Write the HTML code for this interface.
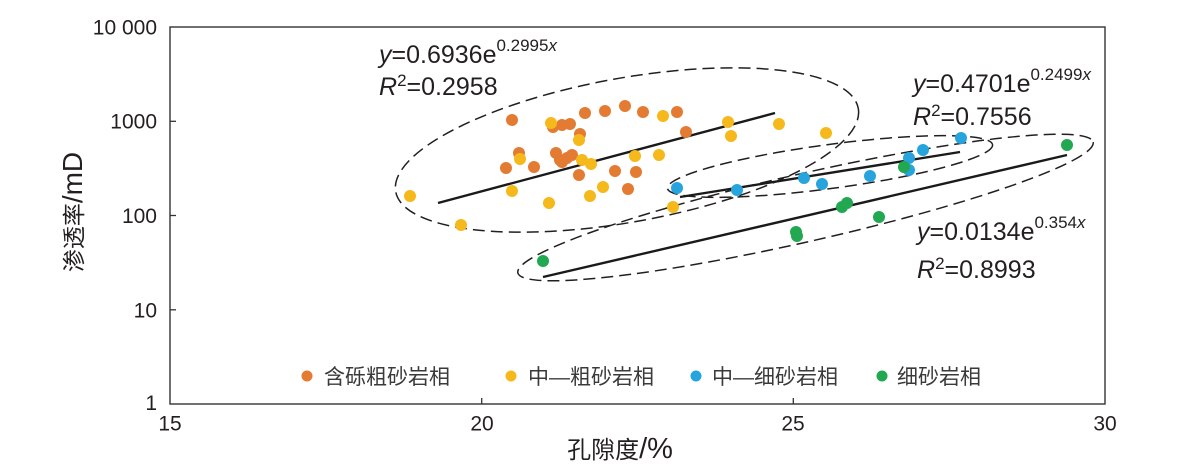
<!DOCTYPE html>
<html>
<head>
<meta charset="utf-8">
<style>
  html,body{margin:0;padding:0;background:#fff;}
  svg{display:block;}
  .t{font-family:"Liberation Sans","Noto Sans CJK SC",sans-serif;}
  .cjk{font-family:"Liberation Sans","Noto Sans CJK SC",sans-serif;}
</style>
</head>
<body>
<svg width="1179" height="476" viewBox="0 0 1179 476" xmlns="http://www.w3.org/2000/svg">
  <rect x="0" y="0" width="1179" height="476" fill="#fff"/>

  <!-- axes box -->
  <rect x="170" y="27" width="935" height="377" fill="none" stroke="#333" stroke-width="1.4"/>
  <g stroke="#333" stroke-width="1.3">
    <line x1="170" y1="121.3" x2="176" y2="121.3"/>
    <line x1="170" y1="215.5" x2="176" y2="215.5"/>
    <line x1="170" y1="309.8" x2="176" y2="309.8"/>
    <line x1="481.7" y1="404" x2="481.7" y2="398"/>
    <line x1="793.3" y1="404" x2="793.3" y2="398"/>
  </g>

  <!-- y tick labels -->
  <g class="t" font-size="21" fill="#231f20" text-anchor="end">
    <text x="157" y="34.5">10 000</text>
    <text x="157" y="128.5">1000</text>
    <text x="157" y="223">100</text>
    <text x="157" y="317.5">10</text>
    <text x="157" y="410">1</text>
  </g>
  <!-- x tick labels -->
  <g class="t" font-size="21" fill="#231f20" text-anchor="middle">
    <text x="170" y="430.5">15</text>
    <text x="482" y="430.5">20</text>
    <text x="793" y="430.5">25</text>
    <text x="1105" y="430.5">30</text>
  </g>

  <!-- axis titles -->
  <text class="cjk" x="0" y="0" font-size="23" fill="#231f20" text-anchor="middle" transform="translate(82,212) rotate(-90)">渗透率<tspan font-size="28">/mD</tspan></text>
  <text class="cjk" x="620" y="458" font-size="24" fill="#231f20" text-anchor="middle">孔隙度<tspan font-size="29">/%</tspan></text>

  <!-- ellipses -->
  <g fill="none" stroke="#231f20" stroke-width="1.5" stroke-dasharray="12 6">
    <ellipse cx="627" cy="150" rx="235" ry="72" transform="rotate(-10.2 627 150)"/>
    <ellipse cx="830" cy="166.5" rx="164" ry="22" transform="rotate(-7.65 830 166.5)"/>
    <ellipse cx="805.5" cy="207.5" rx="295" ry="34" transform="rotate(-12.8 805.5 207.5)"/>
  </g>

  <!-- trend lines -->
  <g stroke="#1a1a1a" stroke-width="2.4">
    <line x1="438" y1="203" x2="775" y2="113"/>
    <line x1="680" y1="197" x2="960" y2="152"/>
    <line x1="543" y1="277" x2="1067" y2="155"/>
  </g>

  <!-- orange points -->
  <g fill="#e37b33">
    <circle cx="512" cy="120" r="6"/>
    <circle cx="553" cy="127" r="6"/>
    <circle cx="562" cy="125" r="6"/>
    <circle cx="570" cy="124" r="6"/>
    <circle cx="585" cy="113" r="6"/>
    <circle cx="605" cy="111" r="6"/>
    <circle cx="625" cy="106" r="6"/>
    <circle cx="643" cy="112" r="6"/>
    <circle cx="677" cy="112" r="6"/>
    <circle cx="686" cy="132" r="6"/>
    <circle cx="580" cy="134" r="6"/>
    <circle cx="519" cy="153" r="6"/>
    <circle cx="506" cy="168" r="6"/>
    <circle cx="534" cy="167" r="6"/>
    <circle cx="556" cy="153" r="6"/>
    <circle cx="560" cy="160" r="6"/>
    <circle cx="567" cy="158" r="6"/>
    <circle cx="572" cy="155" r="6"/>
    <circle cx="562" cy="162" r="6"/>
    <circle cx="579" cy="175" r="6"/>
    <circle cx="615" cy="171" r="6"/>
    <circle cx="636" cy="172" r="6"/>
    <circle cx="628" cy="189" r="6"/>
  </g>
  <!-- yellow points -->
  <g fill="#f6b91c">
    <circle cx="551" cy="123" r="6"/>
    <circle cx="579" cy="140" r="6"/>
    <circle cx="520" cy="159" r="6"/>
    <circle cx="582" cy="160" r="6"/>
    <circle cx="591" cy="164" r="6"/>
    <circle cx="635" cy="156" r="6"/>
    <circle cx="659" cy="155" r="6"/>
    <circle cx="663" cy="116" r="6"/>
    <circle cx="512" cy="191" r="6"/>
    <circle cx="549" cy="203" r="6"/>
    <circle cx="590" cy="196" r="6"/>
    <circle cx="603" cy="187" r="6"/>
    <circle cx="410" cy="196" r="6"/>
    <circle cx="461" cy="225" r="6"/>
    <circle cx="673" cy="207" r="6"/>
    <circle cx="728" cy="122" r="6"/>
    <circle cx="731" cy="136" r="6"/>
    <circle cx="779" cy="124" r="6"/>
    <circle cx="826" cy="133" r="6"/>
  </g>
  <!-- blue points -->
  <g fill="#27a4dd">
    <circle cx="677" cy="188" r="6"/>
    <circle cx="737" cy="190" r="6"/>
    <circle cx="804" cy="178" r="6"/>
    <circle cx="822" cy="184" r="6"/>
    <circle cx="870" cy="176" r="6"/>
    <circle cx="909" cy="158" r="6"/>
    <circle cx="909" cy="170" r="6"/>
    <circle cx="923" cy="150" r="6"/>
    <circle cx="961" cy="138" r="6"/>
  </g>
  <!-- green points -->
  <g fill="#22a851">
    <circle cx="543" cy="261" r="6"/>
    <circle cx="796" cy="232" r="6"/>
    <circle cx="797" cy="236" r="6"/>
    <circle cx="842" cy="207" r="6"/>
    <circle cx="847" cy="203" r="6"/>
    <circle cx="879" cy="217" r="6"/>
    <circle cx="904" cy="167" r="6"/>
    <circle cx="1067" cy="145" r="6"/>
  </g>

  <!-- equations -->
  <g class="t" fill="#231f20">
    <text x="379" y="63" font-size="25"><tspan font-style="italic">y</tspan>=0.6936e<tspan font-size="17" dy="-12">0.2995<tspan font-style="italic">x</tspan></tspan></text>
    <text x="379" y="95" font-size="25"><tspan font-style="italic">R</tspan><tspan font-size="17" dy="-9">2</tspan><tspan dy="9">=0.2958</tspan></text>

    <text x="913" y="92" font-size="25"><tspan font-style="italic">y</tspan>=0.4701e<tspan font-size="17" dy="-12">0.2499<tspan font-style="italic">x</tspan></tspan></text>
    <text x="913" y="125" font-size="25"><tspan font-style="italic">R</tspan><tspan font-size="17" dy="-9">2</tspan><tspan dy="9">=0.7556</tspan></text>

    <text x="917" y="240" font-size="25"><tspan font-style="italic">y</tspan>=0.0134e<tspan font-size="17" dy="-12">0.354<tspan font-style="italic">x</tspan></tspan></text>
    <text x="917" y="278" font-size="25"><tspan font-style="italic">R</tspan><tspan font-size="17" dy="-9">2</tspan><tspan dy="9">=0.8993</tspan></text>
  </g>

  <!-- legend -->
  <circle cx="307" cy="376" r="5.5" fill="#e37b33"/>
  <circle cx="511" cy="376" r="5.5" fill="#f6b91c"/>
  <circle cx="696" cy="376" r="5.5" fill="#27a4dd"/>
  <circle cx="882" cy="376" r="5.5" fill="#22a851"/>
  <g class="cjk" font-size="21" fill="#3a3a3a">
    <text x="324" y="384">含砾粗砂岩相</text>
    <text x="528" y="384">中—粗砂岩相</text>
    <text x="712" y="384">中—细砂岩相</text>
    <text x="897" y="384">细砂岩相</text>
  </g>
</svg>
</body>
</html>
